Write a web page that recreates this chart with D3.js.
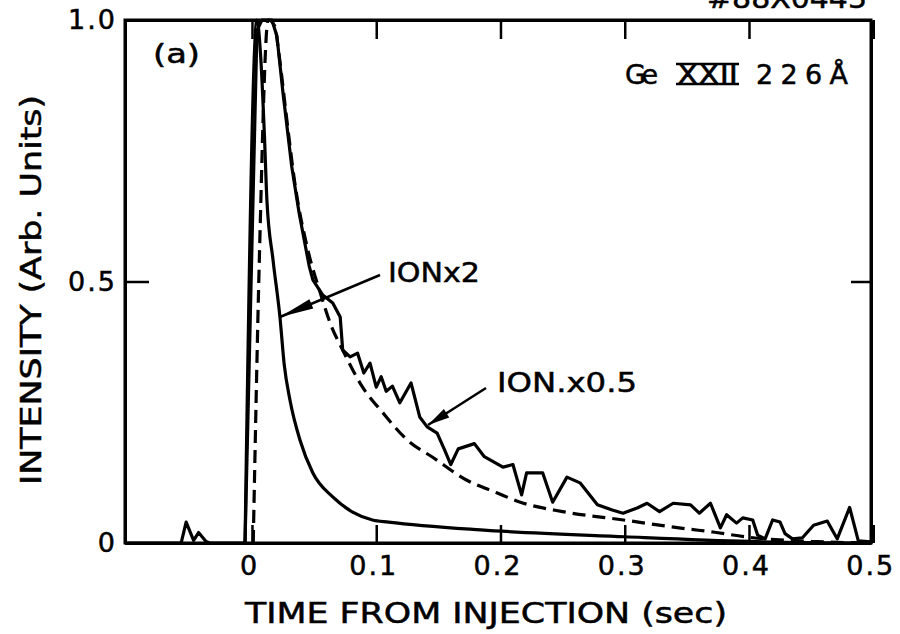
<!DOCTYPE html>
<html><head><meta charset="utf-8">
<script src="https://cdn.jsdelivr.net/npm/d3@7"></script>
<style>
html,body{margin:0;padding:0;background:#fff;}
svg{display:block;}
text{font-family:"DejaVu Sans",sans-serif;fill:#000;stroke:#000;stroke-width:0.5px;}
</style></head>
<body>
<svg id="c" width="900" height="634"></svg>
<script>
// ---- data ----
const xTicks = [0, 0.1, 0.2, 0.3, 0.4, 0.5];
const xTickLabels = ["0", "0.1", "0.2", "0.3", "0.4", "0.5"];
const yTicks = [0, 0.5, 1.0];
const yTickLabels = ["0", "0.5", "1.0"];

// measured signal (noisy solid line)
const measT = [-0.1022,-0.057,-0.053,-0.047,-0.043,-0.037,-0.034,-0.0056,0.004,0.008,0.016,0.020,0.025,0.032,0.038,0.046,0.049,0.057,0.065,0.071,0.073,0.079,0.085,0.090,0.095,0.100,0.104,0.108,0.113,0.119,0.128,0.135,0.141,0.149,0.155,0.160,0.166,0.179,0.187,0.202,0.210,0.217,0.221,0.234,0.242,0.2535,0.264,0.278,0.290,0.2986,0.310,0.318,0.328,0.339,0.353,0.360,0.369,0.377,0.382,0.390,0.395,0.403,0.407,0.413,0.419,0.425,0.429,0.435,0.443,0.452,0.463,0.467,0.471,0.481,0.488,0.4982];
const measV = [0,0,0.04,0.005,0.02,0.003,0,0,0.98,1.0,1.0,0.97,0.86,0.72,0.63,0.53,0.503,0.474,0.459,0.432,0.369,0.356,0.363,0.325,0.344,0.298,0.318,0.29,0.30,0.268,0.306,0.241,0.222,0.21,0.178,0.15,0.18,0.19,0.165,0.145,0.15,0.092,0.134,0.134,0.078,0.126,0.115,0.073,0.063,0.057,0.067,0.076,0.06,0.076,0.073,0.057,0.076,0.029,0.054,0.038,0.048,0.044,0.015,0.008,0.044,0.04,0.018,0.008,0.01,0.034,0.042,0.025,0.008,0.068,0.004,0.002];

// calculation, ION x 0.5 (dashed)
const slowT = [0.001,0.006,0.013,0.018,0.022,0.027,0.035,0.045,0.055,0.063,0.073,0.089,0.105,0.125,0.146,0.173,0.197,0.216,0.25,0.299,0.35,0.371,0.40,0.45,0.4982];
const slowV = [0,0.55,1.0,0.99,0.93,0.83,0.68,0.56,0.478,0.42,0.369,0.298,0.25,0.197,0.163,0.12,0.096,0.078,0.06,0.044,0.027,0.021,0.011,0.003,0];

// calculation, ION x 2 (smooth solid)
const fastT = [-0.0056,0.004,0.007,0.010,0.012,0.017,0.0225,0.026,0.0306,0.0386,0.049,0.065,0.081,0.097,0.11,0.184,0.30,0.40,0.4982];
const fastV = [0,1.0,0.93,0.78,0.656,0.54,0.432,0.34,0.273,0.197,0.134,0.088,0.059,0.044,0.04,0.025,0.012,0.003,0];

// ---- layout ----
const L = 125, R = 871, T = 20, B = 543;
const svg = d3.select("#c");
const x = d3.scaleLinear().domain([-0.1022, 0.4982]).range([L, R]);
const y = d3.scaleLinear().domain([0, 1]).range([B, T]);
const FS = 27;

function styleAxis(g){
  g.select(".domain").attr("stroke","#000").attr("stroke-width",3);
  g.selectAll(".tick line").attr("stroke","#000").attr("stroke-width",2.5);
  g.selectAll(".tick text").attr("font-size",FS).attr("fill","#000")
    .attr("font-family","DejaVu Sans").attr("letter-spacing","2px");
}

// bottom axis
svg.append("g").attr("transform",`translate(0,${B})`)
  .call(d3.axisBottom(x).tickValues(xTicks).tickSizeInner(-18).tickSizeOuter(0).tickPadding(13)
    .tickFormat((d,i)=>xTickLabels[i]))
  .call(styleAxis)
  .call(g=>g.selectAll(".tick text").attr("dx",-3));
// top axis
svg.append("g").attr("transform",`translate(0,${T})`)
  .call(d3.axisTop(x).tickValues(xTicks).tickSizeInner(-19).tickSizeOuter(0).tickFormat(""))
  .call(styleAxis);
// left axis
svg.append("g").attr("transform",`translate(${L},0)`)
  .call(d3.axisLeft(y).tickValues(yTicks).tickSizeInner(-24).tickSizeOuter(0).tickPadding(8)
    .tickFormat((d,i)=>yTickLabels[i]))
  .call(styleAxis);
// right axis
svg.append("g").attr("transform",`translate(${R},0)`)
  .call(d3.axisRight(y).tickValues([0.5]).tickSizeInner(-20).tickSizeOuter(0).tickFormat(""))
  .call(styleAxis);
// close frame corners
svg.append("rect").attr("x",L).attr("y",T).attr("width",R-L).attr("height",B-T)
  .attr("fill","none").attr("stroke","#000").attr("stroke-width",3);

// ---- curves ----
const zip = (a,b)=>a.map((t,i)=>[t,b[i]]);
const lineLin = d3.line().x(d=>x(d[0])).y(d=>y(d[1]));
const lineSmooth = d3.line().x(d=>x(d[0])).y(d=>y(d[1])).curve(d3.curveMonotoneX);

svg.append("path").datum(zip(fastT,fastV)).attr("d",lineSmooth)
  .attr("fill","none").attr("stroke","#000").attr("stroke-width",3.2);
svg.append("path").datum(zip(slowT,slowV)).attr("d",lineSmooth)
  .attr("fill","none").attr("stroke","#000").attr("stroke-width",3.2).attr("stroke-dasharray","13,7");
svg.append("path").datum(zip(measT,measV)).attr("d",lineLin)
  .attr("fill","none").attr("stroke","#000").attr("stroke-width",3.2).attr("stroke-linejoin","round");

// ---- annotations ----
function arrow(x1,y1,x2,y2,hl,hw){
  svg.append("line").attr("x1",x1).attr("y1",y1).attr("x2",x2).attr("y2",y2)
    .attr("stroke","#000").attr("stroke-width",2.5);
  const a = Math.atan2(y2-y1,x2-x1);
  const bx = x2 - hl*Math.cos(a), by = y2 - hl*Math.sin(a);
  const px = -Math.sin(a)*hw/2, py = Math.cos(a)*hw/2;
  svg.append("path").attr("d",`M${x2},${y2}L${bx+px},${by+py}L${bx-px},${by-py}Z`).attr("fill","#000");
}
arrow(380,275,280,317,34,10);
arrow(486,388,428,425,22,10);

function txt(str,xx,yy,len,size,adj){
  return svg.append("text").attr("x",xx).attr("y",yy).attr("font-size",size||FS)
    .attr("textLength",len).attr("lengthAdjust",adj||"spacingAndGlyphs").text(str);
}
txt("IONx2",388,282,92);
txt("ION.x0.5",497,392,140);
txt("(a)",153,63,47);
txt("Ge",625,84,33,27,"spacing");
txt("XXII",677,84,61);
svg.append("line").attr("x1",676).attr("x2",739).attr("y1",64).attr("y2",64).attr("stroke","#000").attr("stroke-width",2.5);
svg.append("line").attr("x1",676).attr("x2",739).attr("y1",84).attr("y2",84).attr("stroke","#000").attr("stroke-width",2.5);
txt("226Å",756,84,92,27,"spacing");
txt("#88X0445",707,8,160);

// axis titles
txt("TIME FROM INJECTION (sec)",245,623,482,28);
svg.append("text").attr("transform","translate(41,290) rotate(-90)")
  .attr("text-anchor","middle").attr("font-size",28)
  .attr("textLength",390).attr("lengthAdjust","spacingAndGlyphs")
  .text("INTENSITY (Arb. Units)");
</script>
</body></html>
